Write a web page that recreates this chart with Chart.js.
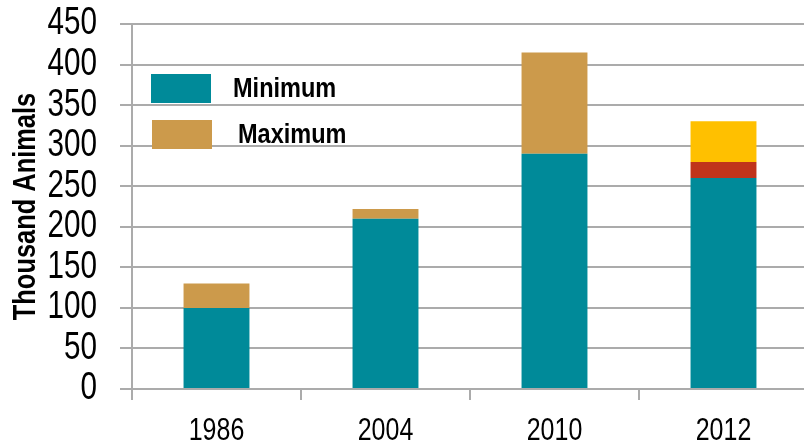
<!DOCTYPE html>
<html>
<head>
<meta charset="utf-8">
<script src="https://cdn.jsdelivr.net/npm/chart.js@4/dist/chart.umd.min.js"></script>
<style>
  html, body { margin: 0; padding: 0; background: #ffffff; overflow: hidden; }
  #wrap { width: 808px; height: 442px; position: relative; }
</style>
</head>
<body>
<div id="wrap"><canvas id="chart"></canvas></div>
<script>
// Survey years and population estimates (thousand animals)
const categories = ['1986', '2004', '2010', '2012'];
const minimum = [100, 210, 290, 260];
const maximum = [130, 222, 415, null];
// 2012 upper estimate is split into two bands
const band2012Mid = [null, null, null, 280];
const band2012Top = [null, null, null, 330];
const yTicks = [0, 50, 100, 150, 200, 250, 300, 350, 400, 450];
const axisTitle = 'Thousand Animals';
const legendLabels = ['Minimum', 'Maximum'];

const TEAL = '#008A99';
const TAN = '#CC9A4B';
const RED = '#C0341B';
const YELLOW = '#FFC000';
const GRID = '#ABABAB';
const FONT = "'Liberation Sans', Arial, sans-serif";

function range(lowArr, highArr) {
  return categories.map((_, i) =>
    lowArr[i] == null || highArr[i] == null ? null : [lowArr[i], highArr[i]]);
}

// Text in a condensed (narrow) cut: regular glyphs squeezed horizontally
function narrowText(ctx, text, x, y, opts) {
  ctx.save();
  ctx.font = opts.font;
  ctx.fillStyle = opts.color || '#000000';
  ctx.textAlign = opts.align || 'left';
  ctx.textBaseline = opts.baseline || 'alphabetic';
  ctx.translate(x, y);
  if (opts.rotate) ctx.rotate(opts.rotate);
  ctx.scale(opts.sx || 0.8, 1);
  ctx.fillText(text, 0, 0);
  ctx.restore();
}

// Axis labels, axis title and legend, drawn from the chart's own scales
const narrowLabels = {
  id: 'narrowLabels',
  afterDraw(chart) {
    const { ctx, chartArea, scales } = chart;
    const xs = scales.x, ys = scales.y;

    ys.ticks.forEach(t => {
      narrowText(ctx, String(t.value), ys.right - 35, ys.getPixelForValue(t.value), {
        font: '38px ' + FONT, sx: 0.78, align: 'right', baseline: 'middle'
      });
    });

    xs.ticks.forEach((t, i) => {
      narrowText(ctx, xs.getLabelForValue(t.value), xs.getPixelForTick(i), chartArea.bottom + 51, {
        font: '32px ' + FONT, sx: 0.78, align: 'center', baseline: 'alphabetic'
      });
    });

    narrowText(ctx, axisTitle, 35, (chartArea.top + chartArea.bottom) / 2, {
      font: 'bold 31px ' + FONT, sx: 0.82, align: 'center', baseline: 'alphabetic',
      rotate: -Math.PI / 2
    });

    const items = [
      { label: legendLabels[0], color: TEAL, x: 19, y: 50, tx: 101 },
      { label: legendLabels[1], color: TAN, x: 20, y: 96, tx: 106 }
    ];
    items.forEach(it => {
      const x = chartArea.left + it.x;
      const y = chartArea.top + it.y;
      ctx.fillStyle = it.color;
      ctx.fillRect(x, y, 60, 29);
      narrowText(ctx, it.label, chartArea.left + it.tx, y + 23, {
        font: 'bold 28px ' + FONT, sx: 0.84, align: 'left', baseline: 'alphabetic'
      });
    });
  }
};

new Chart(document.getElementById('chart'), {
  type: 'bar',
  data: {
    labels: categories,
    datasets: [
      { label: legendLabels[0], data: minimum, backgroundColor: TEAL, order: 1 },
      { label: legendLabels[1], data: range(minimum, maximum), backgroundColor: TAN, order: 2 },
      { label: '2012 mid', data: range(minimum, band2012Mid), backgroundColor: RED, order: 3 },
      { label: '2012 high', data: range(band2012Mid, band2012Top), backgroundColor: YELLOW, order: 4 }
    ]
  },
  options: {
    responsive: true,
    maintainAspectRatio: false,
    animation: false,
    layout: { padding: { top: 24, right: 0, bottom: 0, left: 0 } },
    datasets: {
      bar: {
        grouped: false,
        categoryPercentage: 1,
        barPercentage: 0.39,
        borderWidth: 0
      }
    },
    plugins: {
      legend: { display: false },
      tooltip: { enabled: false }
    },
    scales: {
      x: {
        offset: true,
        grid: {
          offset: true,
          drawOnChartArea: false,
          drawTicks: true,
          tickLength: 11,
          color: GRID,
          lineWidth: 2
        },
        border: { display: false },
        ticks: { display: false, autoSkip: false },
        afterFit(scale) { scale.height = 53; }
      },
      y: {
        min: 0,
        max: 450,
        afterBuildTicks(scale) { scale.ticks = yTicks.map(v => ({ value: v })); },
        grid: {
          color: GRID,
          lineWidth: 2,
          tickLength: 12
        },
        border: { display: true, color: GRID, width: 2 },
        ticks: { display: false, autoSkip: false },
        afterFit(scale) { scale.width = 132; }
      }
    }
  },
  plugins: [narrowLabels]
});
</script>
</body>
</html>
